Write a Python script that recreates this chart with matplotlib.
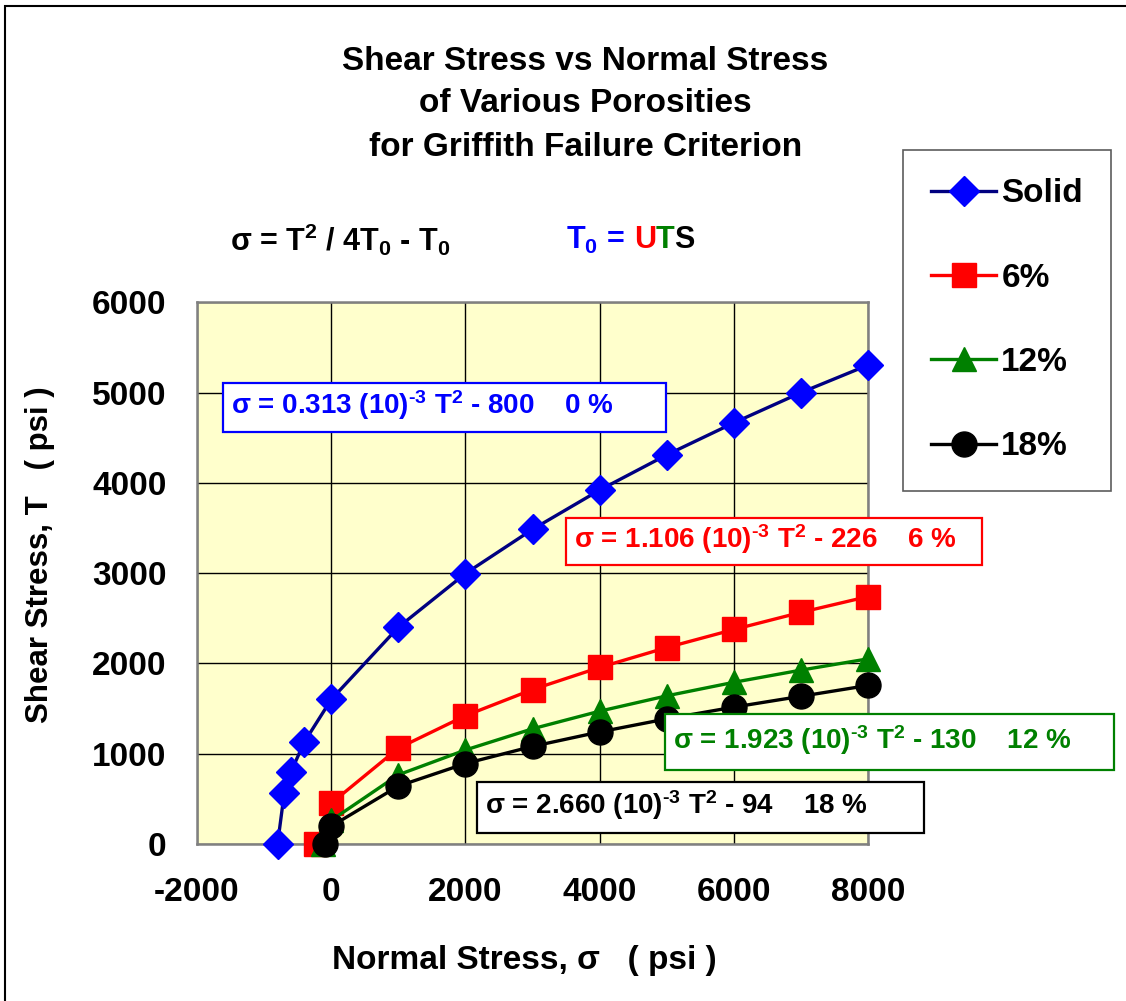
import matplotlib
matplotlib.use("Agg")
import matplotlib.pyplot as plt
from matplotlib.patches import Rectangle

plt.rcParams['font.family'] = ['Liberation Sans', 'DejaVu Sans']
plt.rcParams['font.weight'] = 'bold'
plt.rcParams['axes.unicode_minus'] = False
plt.rcParams['mathtext.fontset'] = 'custom'
plt.rcParams['mathtext.rm'] = 'Liberation Sans:bold'
plt.rcParams['mathtext.bf'] = 'Liberation Sans:bold'
plt.rcParams['mathtext.default'] = 'bf'

# data (normal stress sigma vs shear stress T, psi)
sigma_solid = [-800, -700, -600, -400, 0, 1000, 2000, 3000, 4000, 5000, 6000, 7000, 8000]
t_solid = [0, 565, 800, 1130, 1600, 2400, 2995, 3485, 3920, 4310, 4665, 5000, 5305]

sigma_6 = [-226, 0, 1000, 2000, 3000, 4000, 5000, 6000, 7000, 8000]
t_6 = [0, 450, 1060, 1420, 1710, 1955, 2175, 2375, 2565, 2740]

sigma_12 = [-130, 0, 1000, 2000, 3000, 4000, 5000, 6000, 7000, 8000]
t_12 = [0, 260, 765, 1040, 1275, 1470, 1640, 1790, 1925, 2050]

sigma_18 = [-94, 0, 1000, 2000, 3000, 4000, 5000, 6000, 7000, 8000]
t_18 = [0, 195, 640, 890, 1080, 1240, 1385, 1515, 1635, 1755]

x_ticks = [-2000, 0, 2000, 4000, 6000, 8000]
y_ticks = [0, 1000, 2000, 3000, 4000, 5000, 6000]

W, H = 1126, 1001
fig = plt.figure(figsize=(W / 100, H / 100), dpi=100)
ax = fig.add_axes([0.175, 0.157, 0.596, 0.541])
ax.set_facecolor('#FFFFCC')


def fx(px):
    return px / W


def fy(py):
    return 1 - py / H


series = [
    (sigma_solid, t_solid, 'Solid', '#000080', '#0000FF', 'D', 15),
    (sigma_6, t_6, '6%', '#FF0000', '#FF0000', 's', 17),
    (sigma_12, t_12, '12%', '#008000', '#008000', '^', 17),
    (sigma_18, t_18, '18%', '#000000', '#000000', 'o', 18),
]
handles = []
for xs, ys, lab, lc, mc, mk, ms in series:
    h, = ax.plot(xs, ys, color=lc, lw=2.4, marker=mk, ms=ms, mfc=mc, mec=mc,
                 label=lab, clip_on=False, zorder=3)
    handles.append(h)

ax.set_xlim(-2000, 8000)
ax.set_ylim(0, 6000)
ax.set_xticks(x_ticks)
ax.set_yticks(y_ticks)
ax.tick_params(length=0, labelsize=24, pad=22)
ax.tick_params(axis='x', pad=24)
ax.grid(True, color='black', lw=1)
ax.set_axisbelow(True)
for s in ax.spines.values():
    s.set_color('#808080')
    s.set_linewidth(1.8)

fig.text(0.52, fy(62), 'Shear Stress vs Normal Stress', ha='center', va='center', fontsize=24)
fig.text(0.52, fy(104), 'of Various Porosities', ha='center', va='center', fontsize=24)
fig.text(0.52, fy(147), 'for Griffith Failure Criterion', ha='center', va='center', fontsize=24)

fig.text(fx(230), 0.76, r'σ = T$^2$ / 4T$_0$ - T$_0$', ha='left', va='center', fontsize=22)

# T0 = UTS with coloured letters
fig.canvas.draw()
renderer = fig.canvas.get_renderer()
xpos = fx(566)
for txt, col, gap in [(r'T$_0$ =', '#0000FF', 9), ('U', '#FF0000', 0),
                      ('T', '#008000', 0), ('S', '#000000', 0)]:
    t = fig.text(xpos, 0.76, txt, ha='left', va='center', fontsize=22, color=col)
    bb = t.get_window_extent(renderer)
    xpos = (bb.x1 + gap) / fig.bbox.width

fig.text(fx(40), fy(555), 'Shear Stress, T   ( psi )', rotation=90, ha='center', va='center', fontsize=22.5)
fig.text(fx(524), fy(960), 'Normal Stress, σ   ( psi )', ha='center', va='center', fontsize=24)

# equation boxes: (left, top, right, bottom) in pixels, text
boxes = [
    ((223, 383, 666, 432), r'σ = 0.313 (10)$^{‐3}$ T$^2$ - 800    0 %', '#0000FF'),
    ((566, 518, 982, 565), r'σ = 1.106 (10)$^{‐3}$ T$^2$ - 226    6 %', '#FF0000'),
    ((665, 714, 1114, 770), r'σ = 1.923 (10)$^{‐3}$ T$^2$ - 130    12 %', '#008000'),
    ((477, 782, 924, 833), r'σ = 2.660 (10)$^{‐3}$ T$^2$ - 94    18 %', '#000000'),
]
for (l, t, r, b), txt, col in boxes:
    fig.patches.append(Rectangle((fx(l), fy(b)), fx(r) - fx(l), fy(t) - fy(b),
                                 transform=fig.transFigure, fc='white', ec=col,
                                 lw=1.6, zorder=4))
    fig.text(fx(l + 8), fy((t + b) / 2 - 2), txt, ha='left', va='center',
             fontsize=20, color=col, zorder=5)

leg = fig.legend(handles=handles, loc='upper left', bbox_to_anchor=(fx(903), fy(150)),
                 fontsize=24, frameon=True, fancybox=False, edgecolor='#333333',
                 handlelength=1.95, handletextpad=0.15, labelspacing=1.6,
                 borderpad=0.85, borderaxespad=0)
leg.get_frame().set_linewidth(1.2)

fig.patches.append(Rectangle((0.004, -0.01), 1.02, 1.004, transform=fig.transFigure,
                             fill=False, ec='black', lw=1.5))

fig.savefig('out.png', dpi=100)
